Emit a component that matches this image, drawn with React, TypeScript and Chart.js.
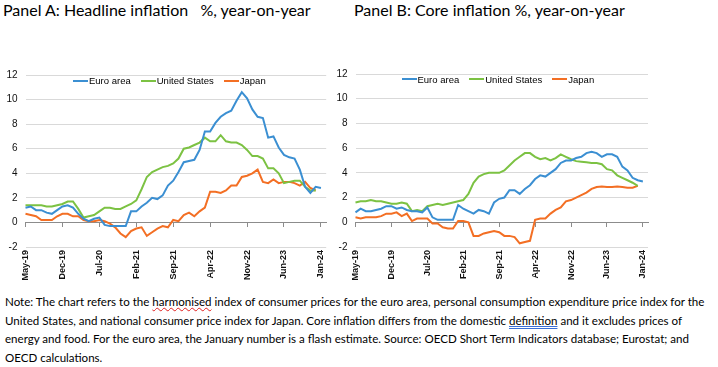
import React, { useEffect, useRef } from 'react';
import { Chart, registerables } from 'chart.js';

Chart.register(...registerables);

// ---------- Data ----------
const months: string[] = [
  'May-19', 'Jun-19', 'Jul-19', 'Aug-19', 'Sep-19', 'Oct-19', 'Nov-19', 'Dec-19',
  'Jan-20', 'Feb-20', 'Mar-20', 'Apr-20', 'May-20', 'Jun-20', 'Jul-20', 'Aug-20', 'Sep-20', 'Oct-20', 'Nov-20', 'Dec-20',
  'Jan-21', 'Feb-21', 'Mar-21', 'Apr-21', 'May-21', 'Jun-21', 'Jul-21', 'Aug-21', 'Sep-21', 'Oct-21', 'Nov-21', 'Dec-21',
  'Jan-22', 'Feb-22', 'Mar-22', 'Apr-22', 'May-22', 'Jun-22', 'Jul-22', 'Aug-22', 'Sep-22', 'Oct-22', 'Nov-22', 'Dec-22',
  'Jan-23', 'Feb-23', 'Mar-23', 'Apr-23', 'May-23', 'Jun-23', 'Jul-23', 'Aug-23', 'Sep-23', 'Oct-23', 'Nov-23', 'Dec-23',
  'Jan-24',
];

// Panel A: headline inflation, % y-o-y
const euroHeadline: (number | null)[] = [
  1.2, 1.3, 1.0, 1.0, 0.8, 0.7, 1.0, 1.3,
  1.4, 1.2, 0.7, 0.3, 0.1, 0.3, 0.4, -0.2, -0.3, -0.3, -0.3, -0.3,
  0.9, 0.9, 1.3, 1.6, 2.0, 1.9, 2.2, 3.0, 3.4, 4.1, 4.9, 5.0,
  5.1, 5.9, 7.4, 7.4, 8.1, 8.6, 8.9, 9.1, 9.9, 10.6, 10.1, 9.2,
  8.6, 8.5, 6.9, 7.0, 6.1, 5.5, 5.3, 5.2, 4.3, 2.9, 2.4, 2.9,
  2.8,
];
const usHeadline: (number | null)[] = [
  1.4, 1.4, 1.4, 1.4, 1.3, 1.3, 1.4, 1.5,
  1.7, 1.7, 1.1, 0.4, 0.5, 0.6, 0.9, 1.2, 1.2, 1.1, 1.1, 1.3,
  1.5, 1.8, 2.7, 3.7, 4.1, 4.3, 4.5, 4.6, 4.8, 5.2, 6.0, 6.1,
  6.3, 6.5, 6.9, 6.6, 6.6, 7.1, 6.6, 6.5, 6.5, 6.3, 5.9, 5.4,
  5.4, 5.2, 4.4, 4.4, 4.0, 3.2, 3.3, 3.4, 3.4, 2.9, 2.6, 2.6,
  null,
];
const jpHeadline: (number | null)[] = [
  0.7, 0.6, 0.5, 0.2, 0.2, 0.2, 0.5, 0.7,
  0.7, 0.5, 0.5, 0.2, 0.1, 0.1, 0.2, 0.1, -0.1, -0.4, -0.9, -1.2,
  -0.7, -0.5, -0.4, -1.1, -0.8, -0.5, -0.3, -0.4, 0.2, 0.1, 0.6, 0.8,
  0.5, 0.9, 1.2, 2.5, 2.5, 2.4, 2.6, 3.0, 3.0, 3.7, 3.8, 4.0,
  4.3, 3.3, 3.2, 3.5, 3.2, 3.3, 3.3, 3.2, 3.0, 3.3, 2.8, 2.6,
  null,
];

// Panel B: core inflation, % y-o-y
const euroCore: (number | null)[] = [
  0.8, 1.1, 0.9, 0.9, 1.0, 1.1, 1.3, 1.3,
  1.1, 1.2, 1.0, 0.9, 0.9, 0.8, 1.2, 0.4, 0.2, 0.2, 0.2, 0.2,
  1.4, 1.1, 0.9, 0.7, 1.0, 0.9, 0.7, 1.6, 1.9, 2.0, 2.6, 2.6,
  2.3, 2.7, 3.0, 3.5, 3.8, 3.7, 4.0, 4.3, 4.8, 5.0, 5.0, 5.2,
  5.3, 5.6, 5.7, 5.6, 5.3, 5.5, 5.5, 5.3, 4.5, 4.2, 3.6, 3.4,
  3.3,
];
const usCore: (number | null)[] = [
  1.6, 1.7, 1.7, 1.8, 1.7, 1.7, 1.6, 1.5,
  1.5, 1.6, 1.5, 0.9, 1.0, 0.9, 1.3, 1.4, 1.5, 1.4, 1.5, 1.6,
  1.7, 1.8, 2.3, 3.2, 3.7, 3.9, 4.0, 4.0, 4.0, 4.2, 4.6, 5.0,
  5.3, 5.6, 5.6, 5.3, 5.1, 5.2, 5.0, 5.2, 5.5, 5.3, 5.1, 4.95,
  4.9, 4.85, 4.8, 4.8, 4.7, 4.3, 4.2, 3.8, 3.6, 3.4, 3.2, 2.95,
  null,
];
const jpCore: (number | null)[] = [
  0.4, 0.3, 0.4, 0.4, 0.4, 0.5, 0.7, 0.7,
  0.8, 0.5, 0.7, 0.1, 0.3, 0.3, 0.3, -0.1, -0.1, -0.4, -0.5, -0.5,
  0.1, 0.1, 0.0, -1.1, -1.1, -0.9, -0.8, -0.7, -0.8, -1.1, -1.1, -1.2,
  -1.7, -1.6, -1.5, 0.2, 0.3, 0.3, 0.7, 1.0, 1.2, 1.7, 1.8, 2.0,
  2.2, 2.4, 2.7, 2.85, 2.9, 2.85, 2.85, 2.9, 2.85, 2.8, 2.8, 2.95,
  null,
];

const seriesNames = ['Euro area', 'United States', 'Japan'];
const seriesColors = ['#3b8fd2', '#7cc243', '#f36f24'];

const yMin = -2;
const yMax = 12;
const yStep = 2;
const labelEvery = 7;

// ---------- Chart helper ----------
const FONT = "'Liberation Sans', Arial, sans-serif";
const TEXT_FONT = "Lato, 'Open Sans', sans-serif";

type Geom = { width: number; height: number; yAxisWidth: number; padTop: number; padRight: number; xAxisHeight: number };

function buildConfig(values: (number | null)[][], geom: Geom): any {
  // one empty trailing category (the chart's plot area runs one month past the last label)
  const labels = [...months, ''];
  return {
    type: 'line',
    data: {
      labels,
      datasets: values.map((v, i) => ({
        label: seriesNames[i],
        data: [...v, null],
        borderColor: seriesColors[i],
        backgroundColor: seriesColors[i],
        borderWidth: 2,
        pointRadius: 0,
        fill: false,
        tension: 0,
        spanGaps: false,
        xAxisID: 'x',
        yAxisID: 'y',
      })),
    },
    options: {
      animation: false,
      responsive: false,
      maintainAspectRatio: false,
      devicePixelRatio: 1,
      events: [],
      layout: { padding: { top: geom.padTop, right: geom.padRight, bottom: 0, left: 0 } },
      plugins: { legend: { display: false }, tooltip: { enabled: false }, title: { display: false } },
      scales: {
        x: {
          type: 'category',
          position: 'bottom',
          offset: false,
          grid: { display: false, drawTicks: false },
          border: { display: false },
          ticks: {
            autoSkip: false,
            minRotation: 90,
            maxRotation: 90,
            padding: 3,
            color: '#111',
            font: { family: FONT, size: 9, weight: 'bold' },
            callback: (_v: any, i: number) => (i % labelEvery === 0 && i < months.length ? months[i] : ''),
          },
          afterFit: (s: any) => { s.height = geom.xAxisHeight; },
        },
        x0: {
          type: 'category',
          position: { y: 0 },
          offset: false,
          grid: {
            drawOnChartArea: false,
            drawTicks: true,
            tickLength: 4,
            color: (ctx: any) => (ctx.index % labelEvery === 0 ? '#8c8c8c' : 'rgba(0,0,0,0)'),
          },
          border: { display: true, color: '#8c8c8c', width: 1 },
          ticks: { display: false, autoSkip: false },
        },
        y: {
          min: yMin,
          max: yMax,
          grid: {
            drawTicks: false,
            color: (ctx: any) => (ctx.tick && ctx.tick.value === 0 ? 'rgba(0,0,0,0)' : '#d9d9d9'),
            lineWidth: 1,
          },
          border: { display: false },
          ticks: {
            stepSize: yStep,
            padding: 8,
            color: '#111',
            font: { family: FONT, size: 10 },
          },
          afterFit: (s: any) => { s.width = geom.yAxisWidth; },
        },
      },
    },
  };
}

function LineChart({ values, geom, left, top }: { values: (number | null)[][]; geom: Geom; left: number; top: number }) {
  const ref = useRef<HTMLCanvasElement | null>(null);
  useEffect(() => {
    if (!ref.current) return;
    const chart = new Chart(ref.current, buildConfig(values, geom));
    return () => chart.destroy();
  }, []);
  return (
    <canvas
      ref={ref}
      width={geom.width}
      height={geom.height}
      style={{ position: 'absolute', left, top, width: geom.width, height: geom.height }}
    />
  );
}

function Legend({ left, top }: { left: number; top: number }) {
  return (
    <div style={{ position: 'absolute', left, top, display: 'flex', alignItems: 'center', height: 12, fontFamily: FONT, fontSize: 9.5, color: '#000', whiteSpace: 'nowrap' }}>
      {seriesNames.map((n, i) => (
        <div key={n} style={{ display: 'flex', alignItems: 'center', marginRight: 10 }}>
          <span style={{ display: 'inline-block', width: 15, height: 2, background: seriesColors[i], marginRight: 1 }} />
          <span>{n}</span>
        </div>
      ))}
    </div>
  );
}

const titleA = 'Panel A: Headline inflation   %, year-on-year';
const titleB = 'Panel B: Core inflation %, year-on-year';

export default function App() {
  const geomA: Geom = { width: 340, height: 230, yAxisWidth: 25.5, padTop: 15, padRight: 13, xAxisHeight: 43 };
  const geomB: Geom = { width: 340, height: 230, yAxisWidth: 25.5, padTop: 13.5, padRight: 22, xAxisHeight: 43 };
  const noteStyle: React.CSSProperties = { height: 18.5, lineHeight: '18.5px', whiteSpace: 'nowrap' };
  return (
    <div style={{ position: 'absolute', left: 0, top: 0, width: 718, height: 367, background: '#fff', overflow: 'hidden' }}>
      <div style={{ position: 'absolute', left: 3, top: 0, fontFamily: TEXT_FONT, fontSize: 16, lineHeight: '20px', whiteSpace: 'pre', color: '#000' }}>{titleA}</div>
      <div style={{ position: 'absolute', left: 354, top: 0, fontFamily: TEXT_FONT, fontSize: 16, lineHeight: '20px', whiteSpace: 'pre', color: '#000' }}>{titleB}</div>

      <LineChart values={[euroHeadline, usHeadline, jpHeadline]} geom={geomA} left={0} top={60} />
      <LineChart values={[euroCore, usCore, jpCore]} geom={geomB} left={330} top={60} />

      <Legend left={73} top={74.5} />
      <Legend left={401.5} top={73} />

      <div style={{ position: 'absolute', left: 5, top: 293, fontFamily: TEXT_FONT, fontSize: 11.55, color: '#000' }}>
        <div style={noteStyle}>
          Note: The chart refers to the{' '}
          <span style={{ textDecoration: 'underline wavy #e02020', textDecorationThickness: 1 }}>harmonised</span>{' '}
          index of consumer prices for the euro area, personal consumption expenditure price index for the
        </div>
        <div style={noteStyle}>
          United States, and national consumer price index for Japan. Core inflation differs from the domestic{' '}
          <span style={{ textDecoration: 'underline double #3a6fd8' }}>definition</span> and it excludes prices of
        </div>
        <div style={noteStyle}>
          energy and food. For the euro area, the January number is a flash estimate. Source: OECD Short Term Indicators database; Eurostat; and
        </div>
        <div style={noteStyle}>OECD calculations.</div>
      </div>
    </div>
  );
}
